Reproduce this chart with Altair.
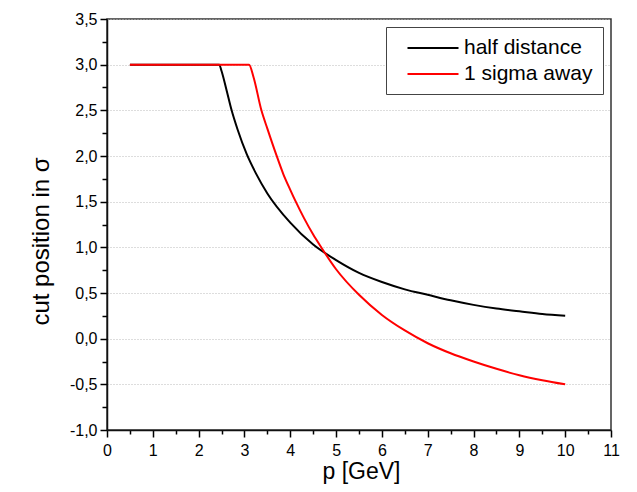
import altair as alt
import pandas as pd

# ---- data ----
half_p = [0.5, 1.0, 1.5, 2.0, 2.45, 2.5, 2.6, 2.72, 2.85, 3.05, 3.25, 3.5, 4.0, 4.5,
          5.0, 5.5, 6.0, 6.5, 7.0, 7.5, 8.0, 8.5, 9.0, 9.5, 10.0]
half_v = [3.0, 3.0, 3.0, 3.0, 3.0, 2.93, 2.74, 2.5, 2.29, 2.02, 1.81, 1.59, 1.27, 1.03,
          0.86, 0.72, 0.62, 0.54, 0.48, 0.42, 0.37, 0.33, 0.30, 0.27, 0.25]

sigma_p = [0.5, 1.0, 1.5, 2.0, 2.5, 3.0, 3.1, 3.2, 3.37, 3.5, 3.69, 3.85, 4.0, 4.12, 4.3,
           4.5, 4.65, 5.0, 5.5, 6.0, 6.5, 7.0, 7.5, 8.0, 8.5, 9.0, 9.5, 10.0]
sigma_v = [3.0, 3.0, 3.0, 3.0, 3.0, 3.0, 3.0, 2.86, 2.5, 2.3, 2.02, 1.8, 1.63, 1.5, 1.32,
           1.14, 1.02, 0.76, 0.48, 0.26, 0.09, -0.05, -0.16, -0.25, -0.33, -0.40, -0.455, -0.50]

series_names = ["half distance", "1 sigma away"]
series_colors = ["#000000", "#ff0000"]

x_ticks = [0, 0.5, 1, 1.5, 2, 2.5, 3, 3.5, 4, 4.5, 5, 5.5, 6, 6.5, 7, 7.5, 8, 8.5,
           9, 9.5, 10, 10.5, 11]
y_ticks = [-1.0, -0.75, -0.5, -0.25, 0.0, 0.25, 0.5, 0.75, 1.0, 1.25, 1.5, 1.75,
           2.0, 2.25, 2.5, 2.75, 3.0, 3.25, 3.5]

df_half = pd.DataFrame({"p": half_p, "v": half_v, "s": series_names[0]})
df_sigma = pd.DataFrame({"p": sigma_p, "v": sigma_v, "s": series_names[1]})

FONT = "Liberation Sans"

x_minor = "abs(datum.value - round(datum.value)) > 0.01"
y_minor = "abs(datum.value * 2 - round(datum.value * 2)) > 0.01"

x_axis = alt.Axis(
    values=x_ticks,
    labelExpr="abs(datum.value - round(datum.value)) > 0.01 ? '' : format(datum.value, 'd')",
    tickSize={"condition": {"test": x_minor, "value": 4}, "value": 7},
    grid=False,
    labelFont=FONT, labelFontSize=16, labelColor="#000", labelPadding=5,
    labelFlush=False, labelOverlap=False, labelBound=False,
    tickColor="#000", tickWidth=1.5,
    domainColor="#111", domainWidth=1.5,
    title="p [GeV]", titleFont=FONT, titleFontSize=23, titleFontWeight="normal",
    titleColor="#000", titleBaseline="alphabetic", titleY=48, titleX=254,
)

y_axis = alt.Axis(
    values=y_ticks,
    labelExpr=("abs(datum.value * 2 - round(datum.value * 2)) > 0.01 ? '' : "
               "replace(replace(format(datum.value, '.1f'), '.', ','), '\u2212', '-')"),
    tickSize={"condition": {"test": y_minor, "value": 5}, "value": 7},
    grid=True,
    gridOpacity={"condition": {"test": y_minor, "value": 0}, "value": 1},
    gridColor="#bbbbbb", gridDash=[1, 2], gridWidth=1,
    labelFont=FONT, labelFontSize=16, labelColor="#000", labelPadding=3,
    labelFlush=False, labelOverlap=False, labelBound=False,
    tickColor="#000", tickWidth=1.5,
    domainColor="#111", domainWidth=1.5,
    title="cut position in σ", titleFont=FONT, titleFontSize=24, titleFontWeight="normal",
    titleColor="#000", titleBaseline="alphabetic", titleX=-59, titleY=222,
)

color = alt.Color(
    "s:N",
    scale=alt.Scale(domain=series_names, range=series_colors),
    legend=alt.Legend(
        orient="none", legendX=279, legendY=8, title=None,
        labelFont=FONT, labelFontSize=21, labelColor="#000",
        symbolType="M-2.55,0H2.55", symbolSize=400, symbolStrokeWidth=2,
        strokeColor="#444", fillColor="#ffffff", padding=10,
        rowPadding=5, labelOffset=20, symbolOffset=26,
    ),
)

x_enc = alt.X("p:Q", scale=alt.Scale(domain=[0, 11], nice=False, zero=False), axis=x_axis)
y_enc = alt.Y("v:Q", scale=alt.Scale(domain=[-1.0, 3.5], nice=False, zero=False), axis=y_axis)

line_half = alt.Chart(df_half).mark_line(strokeWidth=2, interpolate="monotone").encode(
    x=x_enc, y=y_enc, color=color
)
line_sigma = alt.Chart(df_sigma).mark_line(strokeWidth=2, interpolate="monotone").encode(
    x=x_enc, y=y_enc, color=color
)

chart = alt.layer(line_half, line_sigma).properties(
    width=504,
    height=411,
    autosize=alt.AutoSizeParams(type="none"),
    padding={"left": 99, "top": 11, "right": 18, "bottom": 54},
    background="white",
).configure_view(stroke="#333", strokeWidth=1.5)

chart.save("out.html", embed_options={"renderer": "svg", "actions": False})
